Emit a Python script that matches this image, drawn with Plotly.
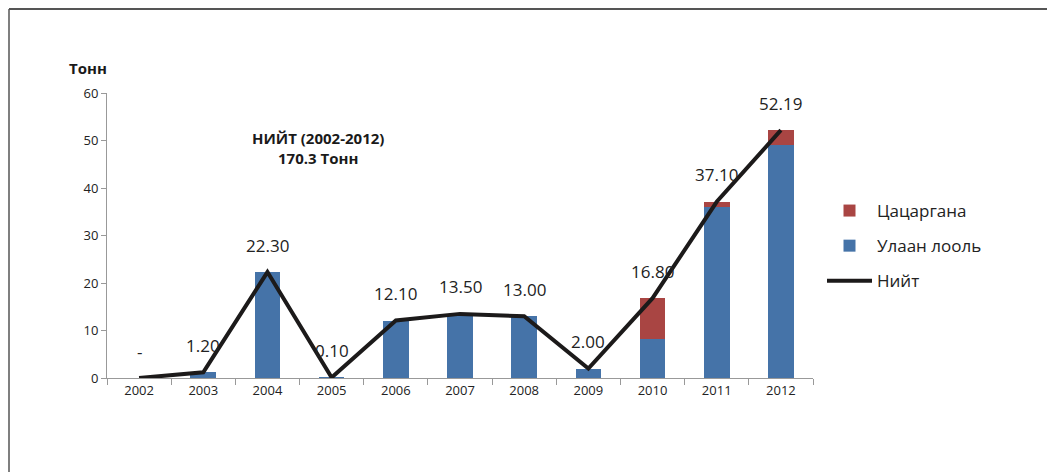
import plotly.graph_objects as go

# Data
years = ["2002", "2003", "2004", "2005", "2006", "2007", "2008", "2009", "2010", "2011", "2012"]
tomato = [0, 1.2, 22.3, 0.1, 12.1, 13.5, 13.0, 2.0, 8.3, 36.05, 49.1]
buckthorn = [0, 0, 0, 0, 0, 0, 0, 0, 8.5, 1.05, 3.09]
total = [0, 1.2, 22.3, 0.1, 12.1, 13.5, 13.0, 2.0, 16.8, 37.1, 52.19]
total_labels = ["-", "1.20", "22.30", "0.10", "12.10", "13.50", "13.00", "2.00", "16.80", "37.10", "52.19"]

RED = "#A94543"
BLUE = "#4573A8"
LINE = "#1C1A1A"
FONT = "Open Sans"

# page has an 8px body margin, so the figure is a bit smaller than the window
OFF = 8
W, H = 1055 - OFF, 472 - OFF
L, T = 107 - OFF, 93 - OFF
R = W - (813 - OFF)
B = H - (378 - OFF)
pw, ph = W - L - R, H - T - B


def px_x(p):
    # window pixel -> paper x
    return (p - OFF - L) / pw


def px_y(p):
    # window pixel -> paper y
    return (H - B - (p - OFF)) / ph


fig = go.Figure()
fig.add_trace(go.Bar(x=years, y=tomato, name="Улаан лооль", legendgroup="b", legendrank=2,
                     marker=dict(color=BLUE, line=dict(width=0))))
fig.add_trace(go.Bar(x=years, y=buckthorn, name="Цацаргана", legendgroup="a", legendrank=1,
                     marker=dict(color=RED, line=dict(width=0))))
fig.add_trace(go.Scatter(x=years, y=total, name="Нийт", mode="lines", legendgroup="c", legendrank=3,
                         line=dict(color=LINE, width=4)))

# value labels above the total line (index positions on the category axis)
for i, (v, lab) in enumerate(zip(total, total_labels)):
    fig.add_annotation(x=i, y=v, text=lab, showarrow=False, yshift=27,
                       font=dict(family=FONT, size=17, color="#222"))

fig.add_annotation(xref="paper", yref="paper", x=px_x(318), y=px_y(148),
                   xanchor="center", yanchor="middle",
                   text="<b>НИЙТ (2002-2012)</b><br><b>170.3 Тонн</b>", showarrow=False,
                   font=dict(family=FONT, size=15, color="#1a1a1a"), align="center")
fig.add_annotation(xref="paper", yref="paper", x=px_x(88), y=px_y(68),
                   xanchor="center", yanchor="middle",
                   text="<b>Тонн</b>", showarrow=False,
                   font=dict(family=FONT, size=15, color="#1a1a1a"))

# outer frame (top and left edges only), kept inside the figure
fig.add_shape(type="line", xref="paper", yref="paper", x0=px_x(9), x1=px_x(1070), y0=px_y(9), y1=px_y(9),
              line=dict(color="#555", width=2))
fig.add_shape(type="line", xref="paper", yref="paper", x0=px_x(9), x1=px_x(9), y0=px_y(9), y1=px_y(490),
              line=dict(color="#555", width=1.5))

fig.update_layout(
    width=W, height=H,
    margin=dict(l=L, r=R, t=T, b=B),
    barmode="stack", bargap=0.6,
    paper_bgcolor="white", plot_bgcolor="white",
    font=dict(family=FONT, size=13, color="#222"),
    showlegend=True,
    legend=dict(x=px_x(822), y=px_y(193), xanchor="left", yanchor="top",
                font=dict(family=FONT, size=17, color="#222"),
                traceorder="grouped", tracegroupgap=10, itemwidth=45,
                bgcolor="rgba(0,0,0,0)"),
    xaxis=dict(type="category", range=[-0.5, 10.5], showline=True, linecolor="#999", linewidth=1,
               ticks="outside", tickson="boundaries", ticklen=6, tickcolor="#999",
               showgrid=False, tickfont=dict(size=13)),
    yaxis=dict(range=[0, 60], dtick=10, showline=True, linecolor="#999", linewidth=1,
               ticks="outside", ticklen=5, tickcolor="#999", showgrid=False, zeroline=False,
               tickfont=dict(size=13)),
)

fig.write_html("out.html")
